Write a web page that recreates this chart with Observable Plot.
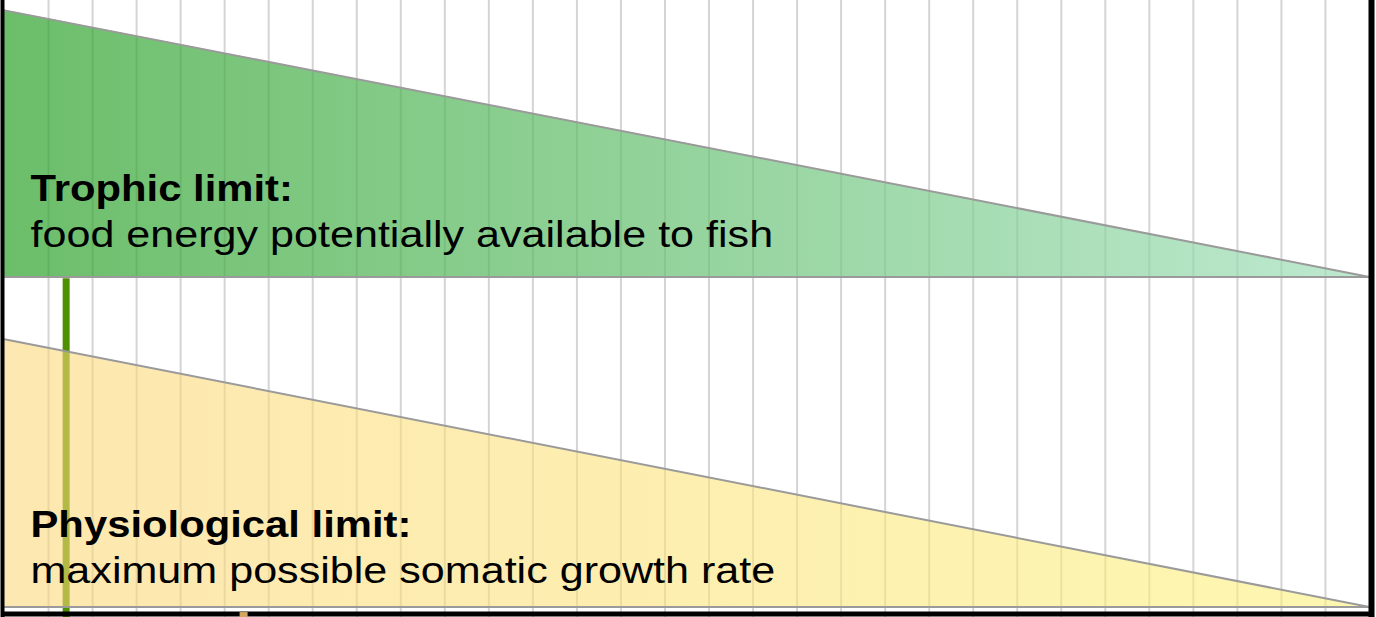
<!DOCTYPE html>
<html><head><meta charset="utf-8">
<script src="https://cdn.jsdelivr.net/npm/d3@7"></script>
<script src="https://cdn.jsdelivr.net/npm/@observablehq/plot@0.6"></script>
<style>html,body{margin:0;padding:0;background:#fff;overflow:hidden}</style>
</head><body><div id="chart"></div>
<script>
// x: 31 grid intervals across the panel; y: arbitrary energy units (0 = bottom)
const xDomain = [0, 31];
const gridX = [1,2,3,4,5,6,7,8,9,10,11,12,13,14,15,16,17,18,19,20,21,22,23,24,25,26,27,28,29,30];

const trophicX = [0, 31];
const trophicTop = [98.4, 55.2];
const trophicBase = 55.2;

const physioX = [0, 31];
const physioTop = [45.1, 1.7];
const physioBase = 1.7;

const markerGreenX = 1.4;
const markerGreenTop = 54.9;
const markerTanX = 5.43;
const markerTanTop = 0.8;
const axisY = 0.57;

const labelX = 0.59;
const boldLabels = [
  {x: labelX, y: 67.5, text: "Trophic limit:"},
  {x: labelX, y: 12.97, text: "Physiological limit:"}
];
const plainLabels = [
  {x: labelX, y: 60.1, text: "food energy potentially available to fish"},
  {x: labelX, y: 5.67, text: "maximum possible somatic growth rate"}
];

const trophic = trophicX.map((x, i) => ({x, top: trophicTop[i], base: trophicBase}));
const physio = physioX.map((x, i) => ({x, top: physioTop[i], base: physioBase}));

const defs = () => {
  const ns = "http://www.w3.org/2000/svg";
  const d = document.createElementNS(ns, "defs");
  d.innerHTML = `
    <linearGradient id="gradTrophic" x1="0" x2="1" y1="0" y2="0">
      <stop offset="0" stop-color="#2da22a"/><stop offset="1" stop-color="#a2e0bc"/>
    </linearGradient>
    <linearGradient id="gradPhysio" x1="0" x2="1" y1="0" y2="0">
      <stop offset="0" stop-color="#fcd677"/><stop offset="1" stop-color="#fcf177"/>
    </linearGradient>`;
  return d;
};

const font = "'Liberation Sans', Arial, Helvetica, sans-serif";

const chart = Plot.plot({
  width: 1376, height: 617,
  marginLeft: 4, marginRight: 7, marginTop: 0, marginBottom: 0,
  x: {domain: xDomain, axis: null},
  y: {domain: [0, 100], axis: null},
  marks: [
    defs,
    Plot.ruleX(gridX, {stroke: "#000", strokeOpacity: 0.17, strokeWidth: 2}),
    Plot.areaY(trophic, {x: "x", y1: "base", y2: "top", fill: "url(#gradTrophic)", fillOpacity: 0.7}),
    Plot.line(trophic, {x: "x", y: "top", stroke: "#9a9a9a", strokeWidth: 2}),
    Plot.ruleY([trophicBase], {stroke: "#9a9a9a", strokeWidth: 2}),
    Plot.ruleX([markerGreenX], {y1: 0, y2: markerGreenTop, stroke: "#4e9000", strokeWidth: 7}),
    Plot.areaY(physio, {x: "x", y1: "base", y2: "top", fill: "url(#gradPhysio)", fillOpacity: 0.58}),
    Plot.line(physio, {x: "x", y: "top", stroke: "#9a9a9a", strokeWidth: 2}),
    Plot.ruleY([physioBase], {stroke: "#9a9a9a", strokeWidth: 2}),
    Plot.text(boldLabels, {x: "x", y: "y", text: "text", fontSize: 37, fontWeight: "bold", fontFamily: font, textAnchor: "start", lineAnchor: "bottom", fill: "black", ariaLabel: "bold-label"}),
    Plot.text(plainLabels, {x: "x", y: "y", text: "text", fontSize: 37, fontFamily: font, textAnchor: "start", lineAnchor: "bottom", fill: "black", ariaLabel: "plain-label"}),
    Plot.ruleY([axisY], {stroke: "black", strokeWidth: 5}),
    Plot.ruleX([markerTanX], {y1: 0, y2: markerTanTop, stroke: "#d3a75f", strokeWidth: 8}),
    Plot.ruleX([xDomain[0]], {stroke: "black", strokeWidth: 4, dx: -2}),
    Plot.ruleX([xDomain[1]], {stroke: "black", strokeWidth: 6, dx: 2})
  ]
});

const stretch = (sel, s) => chart.querySelectorAll(sel).forEach(t => {
  const tr = t.getAttribute("transform");
  if (tr) t.setAttribute("transform", tr + ` scale(${s},1)`);
});
const textGroups = chart.querySelectorAll('g[aria-label="text"], g[aria-label="bold-label"], g[aria-label="plain-label"]');
// first text group is bold, second is plain
const groups = Array.from(chart.querySelectorAll("g")).filter(g => g.querySelector(":scope > text"));
if (groups.length >= 2) {
  groups[0].querySelectorAll("text").forEach(t => { const tr = t.getAttribute("transform"); if (tr) t.setAttribute("transform", tr + " scale(1.13,1)"); });
  groups[1].querySelectorAll("text").forEach(t => { const tr = t.getAttribute("transform"); if (tr) t.setAttribute("transform", tr + " scale(1.165,1)"); });
}

document.getElementById("chart").appendChild(chart);
</script>
</body></html>
